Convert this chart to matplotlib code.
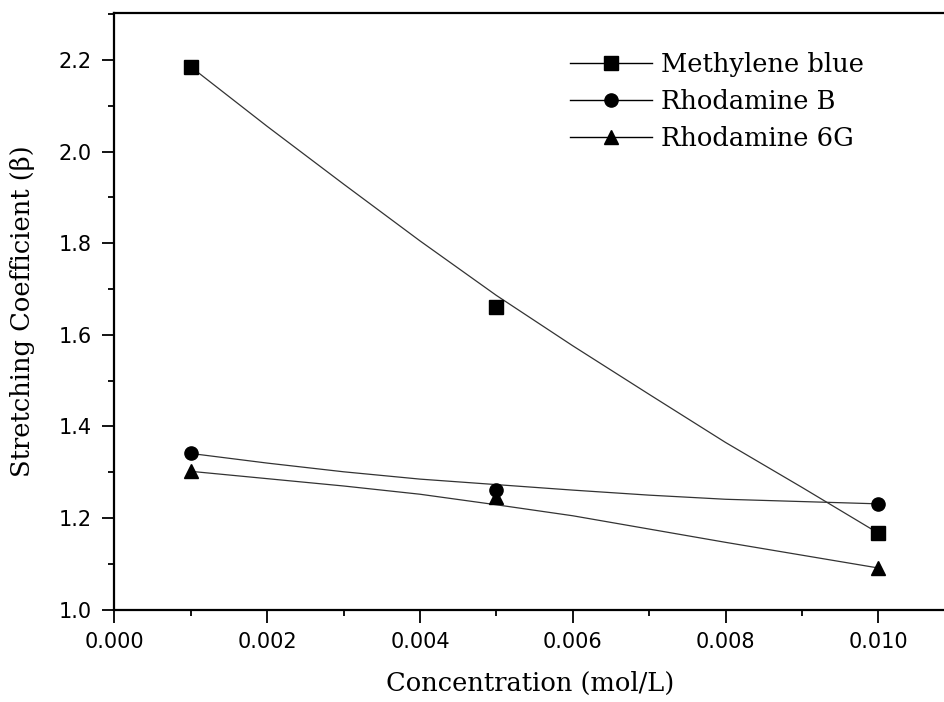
import numpy as np
import matplotlib
matplotlib.use("Agg")
import matplotlib.pyplot as plt

# measured points
conc = [0.001, 0.005, 0.010]
mb = [2.185, 1.660, 1.167]
rb = [1.341, 1.262, 1.231]
r6g = [1.302, 1.245, 1.090]

# smoothed curves
fit_x = [0.001, 0.002, 0.003, 0.004, 0.005, 0.006, 0.007, 0.008, 0.009, 0.010]
mb_fit = [2.185, 2.055, 1.929, 1.805, 1.686, 1.576, 1.470, 1.365, 1.267, 1.167]
rb_fit = [1.341, 1.320, 1.301, 1.285, 1.273, 1.261, 1.250, 1.241, 1.236, 1.231]
r6g_fit = [1.302, 1.286, 1.270, 1.252, 1.229, 1.205, 1.176, 1.147, 1.119, 1.091]

labels = ["Methylene blue", "Rhodamine B", "Rhodamine 6G"]
markers = ["s", "o", "^"]

serif = ["DejaVu Serif"]
sans = ["DejaVu Sans"]

fig = plt.figure(figsize=(9.45, 7.02), dpi=100)
ax = fig.add_axes([0.121, 0.1315, 0.8801, 0.8504])

for pts, fit, m, lab in zip([mb, rb, r6g], [mb_fit, rb_fit, r6g_fit], markers, labels):
    ax.plot(fit_x, fit, color="#333333", lw=0.9)
    ax.plot(conc, pts, linestyle="none", marker=m, color="black", ms=9.5)
    # legend proxy
    ax.plot([], [], color="black", lw=1.0, marker=m, ms=9.5, label=lab)

ax.set_xlim(0, 0.010886)
ax.set_ylim(1.0, 2.303)
ax.set_xticks(np.arange(0, 0.0101, 0.002))
ax.set_xticks(np.arange(0.001, 0.0101, 0.002), minor=True)
ax.set_yticks(np.arange(1.0, 2.21, 0.2))
ax.set_yticks(np.arange(1.1, 2.31, 0.2), minor=True)
ax.xaxis.set_major_formatter(matplotlib.ticker.FormatStrFormatter("%.3f"))
ax.yaxis.set_major_formatter(matplotlib.ticker.FormatStrFormatter("%.1f"))

ax.tick_params(which="major", direction="out", length=9, width=1.3, pad=7)
ax.tick_params(which="minor", direction="out", length=4.5, width=1.3)
for lab in ax.get_xticklabels() + ax.get_yticklabels():
    lab.set_family(sans)
    lab.set_fontsize(15)

for s in ["left", "bottom", "top"]:
    ax.spines[s].set_linewidth(1.6)
ax.spines["right"].set_visible(False)

ax.set_xlabel("Concentration (mol/L)", family=serif, fontsize=18.5, labelpad=14)
ax.set_ylabel("Stretching Coefficient (\u03b2)", family=serif, fontsize=18.5, labelpad=17)

leg = ax.legend(loc="upper left", bbox_to_anchor=(0.548, 0.935), frameon=False,
                prop={"family": serif, "size": 18.5}, handlelength=3.2,
                handletextpad=0.35, labelspacing=0.48, borderpad=0, borderaxespad=0)

fig.savefig("out.png", dpi=100)
